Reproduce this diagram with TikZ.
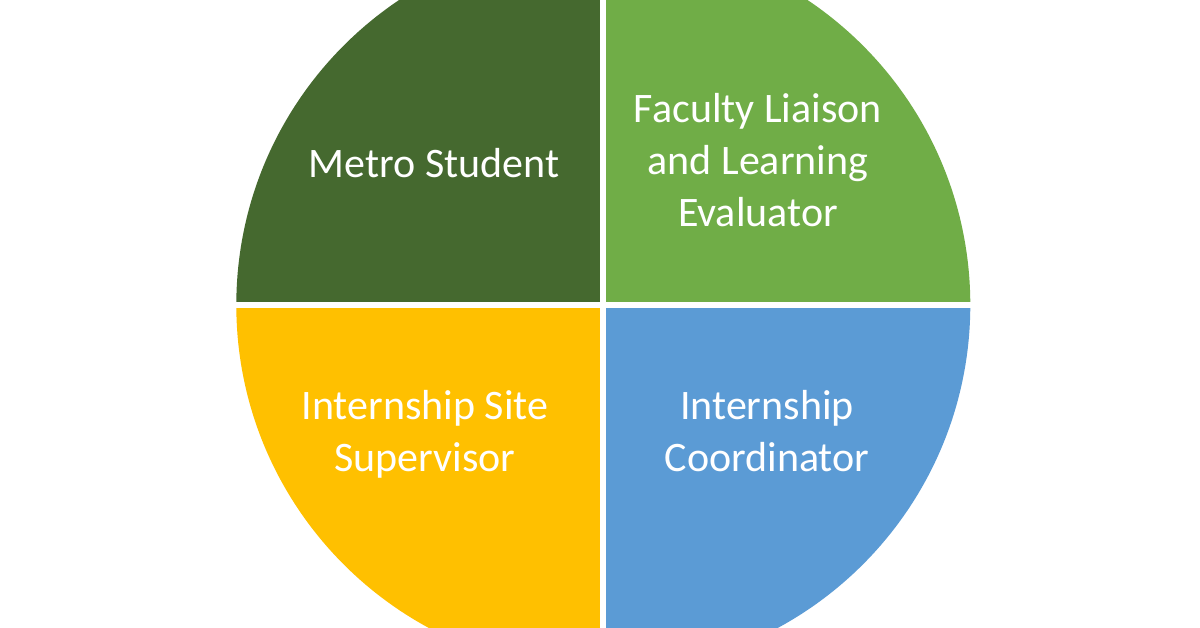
\documentclass[tikz,border=0pt]{standalone}
\usepackage{fontspec}
\setmainfont{Carlito}
\definecolor{dkgreen}{HTML}{45692F}
\definecolor{ltgreen}{HTML}{70AD47}
\definecolor{gold}{HTML}{FFC000}
\definecolor{skyblue}{HTML}{5B9BD5}
\begin{document}
\begin{tikzpicture}[x=1pt,y=1pt,
  lbl/.style={text=white,font=\fontsize{42}{52}\selectfont,align=center,anchor=base,inner sep=0pt},
  gap/.style={draw=white,line width=6pt}]
\useasboundingbox (0,0) rectangle (1200,627);
\clip (0,0) rectangle (1200,627);
\fill[white] (0,0) rectangle (1200,627);
\coordinate (c) at (603.3,322);
\fill[dkgreen] (c) -- ++(-367,0) arc[start angle=180,end angle=90,radius=367] -- cycle;
\fill[ltgreen] (c) -- ++(0,367) arc[start angle=90,end angle=0,radius=367] -- cycle;
\fill[skyblue] (c) -- ++(367,0) arc[start angle=0,end angle=-90,radius=367] -- cycle;
\fill[gold] (c) -- ++(0,-367) arc[start angle=-90,end angle=-180,radius=367] -- cycle;
\coordinate (vt) at (603.3,700);
\coordinate (vb) at (603.3,-80);
\coordinate (hl) at (200,322);
\coordinate (hr) at (1000,322);
\draw[gap] (vt) -- (vb);
\draw[gap] (hl) -- (hr);
\node[lbl] (ms) at (434,449) {Metro Student};
\node[lbl] (fl) at (758,400) {Faculty Liaison\\and Learning\\Evaluator};
\node[lbl] (is) at (425,155) {Internship Site\\Supervisor};
\node[lbl] (ic) at (767,155) {Internship\\Coordinator};
\end{tikzpicture}
\end{document}
